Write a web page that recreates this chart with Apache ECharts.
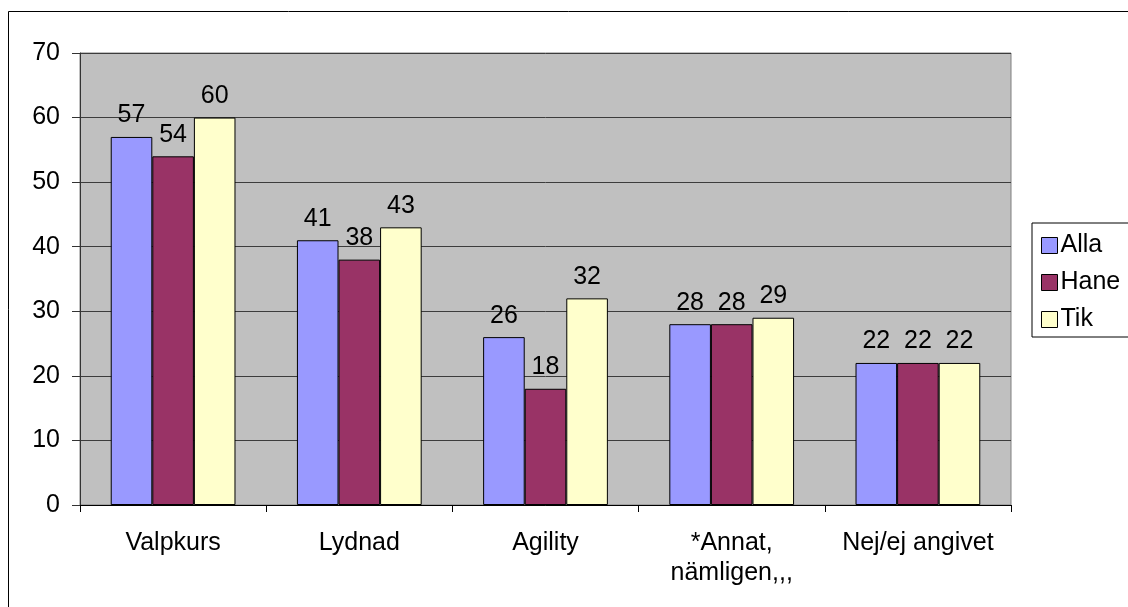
<!DOCTYPE html>
<html>
<head>
<meta charset="utf-8">
<script src="https://cdn.jsdelivr.net/npm/echarts@6/dist/echarts.min.js"></script>
<style>
  html, body { margin: 0; padding: 0; background: #fff; }
  #chart { width: 1128px; height: 607px; }
</style>
</head>
<body>
<div id="chart"></div>
<script>
// data
const categories = ['Valpkurs', 'Lydnad', 'Agility', '*Annat,\nnämligen,,,', 'Nej/ej angivet']
const alla = [57, 41, 26, 28, 22]
const hane = [54, 38, 18, 28, 22]
const tik = [60, 43, 32, 29, 22]
const yTicks = [0, 10, 20, 30, 40, 50, 60, 70]

const font = 'Liberation Sans, Arial, sans-serif'
const fs = 25
const chart = echarts.init(document.getElementById('chart'))

const barSeries = (name, data, color) => ({
  name,
  type: 'bar',
  data,
  barGap: '0%',
  barCategoryGap: '33%',
  itemStyle: { color, borderColor: '#000', borderWidth: 1 },
  label: {
    show: true,
    position: 'top',
    distance: 9,
    color: '#000',
    fontFamily: font,
    fontSize: fs
  }
})

chart.setOption({
  animation: false,
  textStyle: { fontFamily: font },
  graphic: [{
    type: 'rect',
    shape: { x: 8.5, y: 11.5, width: 1300, height: 800 },
    style: { fill: 'none', stroke: '#000', lineWidth: 1 },
    silent: true
  }],
  grid: {
    left: 80, right: 117, top: 53, bottom: 102,
    show: true,
    backgroundColor: '#c0c0c0',
    borderColor: '#808080',
    borderWidth: 1
  },
  legend: {
    orient: 'vertical',
    left: 1032,
    top: 223,
    padding: [10, 12, 5, 9],
    itemGap: 12,
    itemWidth: 16,
    itemHeight: 16,
    icon: 'rect',
    borderColor: '#000',
    borderWidth: 1,
    backgroundColor: '#fff',
    textStyle: { color: '#000', fontSize: fs, fontFamily: font, padding: [0, 0, 0, -2] },
    data: ['Alla', 'Hane', 'Tik'],
    itemStyle: { borderColor: '#000', borderWidth: 1 }
  },
  xAxis: {
    type: 'category',
    data: categories,
    axisLine: { lineStyle: { color: '#000', width: 1 } },
    axisTick: { show: true, length: 7, lineStyle: { color: '#000' } },
    axisLabel: {
      color: '#000', fontSize: fs, fontFamily: font,
      margin: 23, lineHeight: 30, interval: 0
    }
  },
  yAxis: {
    type: 'value',
    min: yTicks[0],
    max: yTicks[yTicks.length - 1],
    interval: 10,
    axisLine: { show: true, lineStyle: { color: '#333', width: 1 } },
    axisTick: { show: true, length: 8, lineStyle: { color: '#333' } },
    axisLabel: { color: '#000', fontSize: fs, fontFamily: font, margin: 20 },
    splitLine: { lineStyle: { color: '#3c3c3c', width: 1 } }
  },
  series: [
    barSeries('Alla', alla, '#9999ff'),
    barSeries('Hane', hane, '#993366'),
    barSeries('Tik', tik, '#ffffcc')
  ]
})
</script>
</body>
</html>
